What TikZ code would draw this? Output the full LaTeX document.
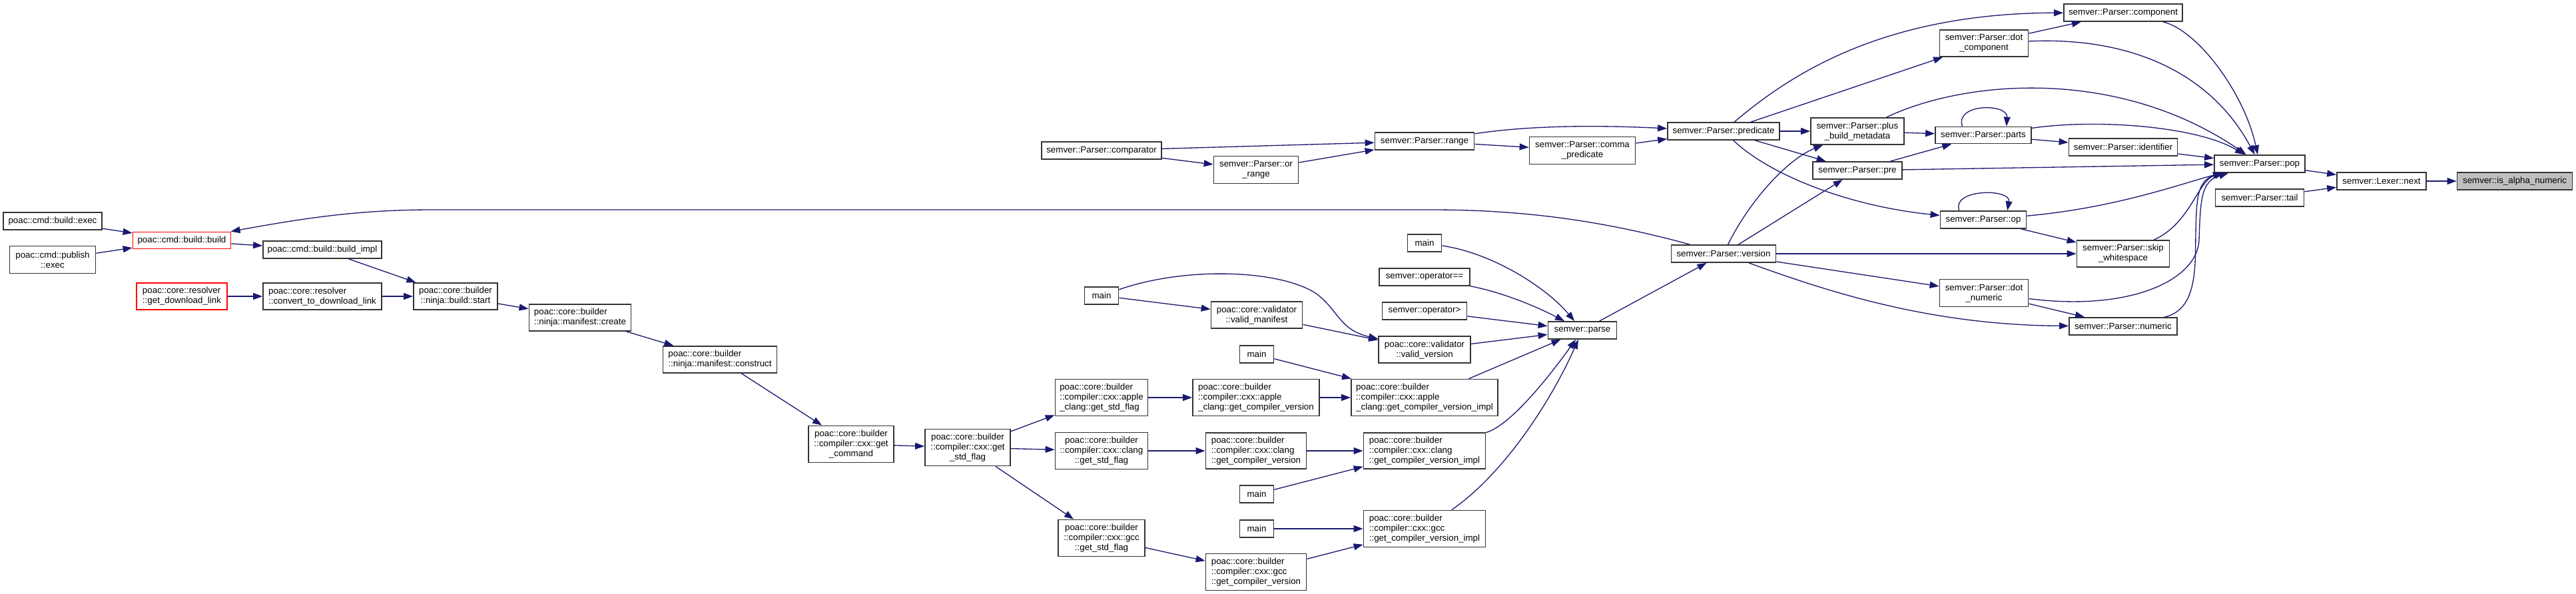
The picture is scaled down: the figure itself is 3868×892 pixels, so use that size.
\documentclass[tikz,border=0pt]{standalone}
\usepackage{fontspec}
\setmainfont{Liberation Sans}
\usetikzlibrary{arrows.meta}
\definecolor{edgeblue}{HTML}{191970}
\definecolor{boxline}{HTML}{333333}
\definecolor{hlgray}{HTML}{BFBFBF}
\newcommand\nodefont{\fontsize{7.6pt}{8.54pt}\selectfont}
\tikzset{
  fn/.style={draw=boxline, line width=1pt, fill=white, inner sep=0pt, font=\nodefont, align=center},
  fnl/.style={fn, align=left},
  redbox/.style={draw=red},
  sz/.style 2 args={minimum width={#1*0.02cm}, minimum height={#2*0.02cm}},
  edge/.style={draw=edgeblue, line width=0.75pt, -{Triangle[length=0.28cm,width=0.2cm]}},
}
\begin{document}
\begin{tikzpicture}[x=0.02cm, y=-0.02cm]
\useasboundingbox (0,0) rectangle (3868,892);
% ---------- left part ----------
\node[fn, sz={148}{26}] (bexec) at (79,332) {poac::cmd::build::exec};
\node[fn, sz={129}{41}] (pexec) at (79,390) {poac::cmd::publish\\::exec};
\node[fn, redbox, sz={147}{25}] (bbuild) at (273,361) {poac::cmd::build::build};
\node[fn, sz={178}{26}] (bimpl) at (484,375) {poac::cmd::build::build\_impl};
\node[fnl, redbox, sz={136}{40}] (gdl) at (273,445) {poac::core::resolver\\::get\_download\_link};
\node[fnl, sz={178}{40}] (conv) at (484,445) {poac::core::resolver\\::convert\_to\_download\_link};
\node[fn, sz={126}{40}] (nstart) at (684,445) {poac::core::builder\\::ninja::build::start};
\node[fnl, sz={153}{40}] (create) at (871,477) {poac::core::builder\\::ninja::manifest::create};
\node[fnl, sz={171}{40}] (construct) at (1081,540) {poac::core::builder\\::ninja::manifest::construct};
\node[fn, sz={128}{55}] (getcmd) at (1278,667) {poac::core::builder\\::compiler::cxx::get\\\_command};
\node[fn, sz={128}{55}] (getstd) at (1453,672) {poac::core::builder\\::compiler::cxx::get\\\_std\_flag};
\node[fnl, sz={139}{55}] (astd) at (1654,597) {poac::core::builder\\::compiler::cxx::apple\\\_clang::get\_std\_flag};
\node[fn, sz={139}{55}] (cstd) at (1654,677) {poac::core::builder\\::compiler::cxx::clang\\::get\_std\_flag};
\node[fn, sz={130}{55}] (gstd) at (1654,808) {poac::core::builder\\::compiler::cxx::gcc\\::get\_std\_flag};
% ---------- middle ----------
\node[fn, sz={180}{26}] (comparator) at (1654,226) {semver::Parser::comparator};
\node[fn, sz={127}{41}] (orrange) at (1886,255) {semver::Parser::or\\\_range};
\node[fn, sz={149}{26}] (range) at (2139,212) {semver::Parser::range};
\node[fn, sz={159}{41}] (comma) at (2376,226) {semver::Parser::comma\\\_predicate};
\node[fn, sz={168}{26}] (predicate) at (2588,197) {semver::Parser::predicate};
\node[fn, sz={51}{26}] (main2) at (1654,444) {main};
\node[fn, sz={137}{40}] (vmanifest) at (1887,473) {poac::core::validator\\::valid\_manifest};
\node[fn, sz={51}{26}] (main3) at (1887,532) {main};
\node[fnl, sz={190}{55}] (agcv) at (1886,597) {poac::core::builder\\::compiler::cxx::apple\\\_clang::get\_compiler\_version};
\node[fnl, sz={220}{55}] (aimpl) at (2139,597) {poac::core::builder\\::compiler::cxx::apple\\\_clang::get\_compiler\_version\_impl};
\node[fnl, sz={151}{54}] (cgcv) at (1886,677) {poac::core::builder\\::compiler::cxx::clang\\::get\_compiler\_version};
\node[fnl, sz={183}{54}] (cimpl) at (2139,677) {poac::core::builder\\::compiler::cxx::clang\\::get\_compiler\_version\_impl};
\node[fn, sz={51}{26}] (main4) at (1887,742) {main};
\node[fn, sz={51}{26}] (main5) at (1887,794) {main};
\node[fnl, sz={183}{55}] (gimpl) at (2139,794) {poac::core::builder\\::compiler::cxx::gcc\\::get\_compiler\_version\_impl};
\node[fnl, sz={151}{55}] (ggcv) at (1886,859) {poac::core::builder\\::compiler::cxx::gcc\\::get\_compiler\_version};
\node[fn, sz={51}{26}] (main1) at (2139,365) {main};
\node[fn, sz={136}{26}] (opeq) at (2139,416) {semver::operator==};
\node[fn, sz={127}{26}] (opgt) at (2139,467) {semver::operator>};
\node[fn, sz={138}{40}] (vversion) at (2139,525) {poac::core::validator\\::valid\_version};
\node[fn, sz={103}{26}] (parse) at (2376,496) {semver::parse};
\node[fn, sz={157}{26}] (version) at (2588,381) {semver::Parser::version};
% ---------- right part ----------
\node[fn, sz={140}{40}] (plus) at (2789,197) {semver::Parser::plus\\\_build\_metadata};
\node[fn, sz={134}{26}] (pre) at (2789,256) {semver::Parser::pre};
\node[fn, sz={133}{40}] (dotcomp) at (2979,65) {semver::Parser::dot\\\_component};
\node[fn, sz={144}{25}] (parts) at (2978,203) {semver::Parser::parts};
\node[fn, sz={129}{26}] (op) at (2978,330) {semver::Parser::op};
\node[fn, sz={133}{41}] (dotnum) at (2979,440) {semver::Parser::dot\\\_numeric};
\node[fn, sz={178}{26}] (component) at (3188,19) {semver::Parser::component};
\node[fn, sz={163}{26}] (identifier) at (3188,221) {semver::Parser::identifier};
\node[fn, sz={139}{40}] (skipws) at (3188,381) {semver::Parser::skip\\\_whitespace};
\node[fn, sz={162}{26}] (numeric) at (3188,490) {semver::Parser::numeric};
\node[fn, sz={136}{26}] (pop) at (3393,246) {semver::Parser::pop};
\node[fn, sz={133}{26}] (tail) at (3393,297) {semver::Parser::tail};
\node[fn, sz={134}{26}] (next) at (3576,272) {semver::Lexer::next};
\node[fn, fill=hlgray, sz={173}{26}] (alpha) at (3776,272) {semver::is\_alpha\_numeric};
% ---------- edges: left ----------
\draw[edge] (bexec) -- (bbuild);
\draw[edge] (pexec) -- (bbuild);
\draw[edge] (bbuild) -- (bimpl);
\draw[edge] (bimpl) -- (nstart);
\draw[edge] (gdl) -- (conv);
\draw[edge] (conv) -- (nstart);
\draw[edge] (nstart) -- (create);
\draw[edge] (create) -- (construct);
\draw[edge] (construct) -- (getcmd);
\draw[edge] (getcmd) -- (getstd);
\draw[edge] (getstd) -- (astd);
\draw[edge] (getstd) -- (cstd);
\draw[edge] (getstd) -- (gstd);
\draw[edge] (astd) -- (agcv);
\draw[edge] (agcv) -- (aimpl);
\draw[edge] (cstd) -- (cgcv);
\draw[edge] (cgcv) -- (cimpl);
\draw[edge] (gstd) -- (ggcv);
\draw[edge] (ggcv) -- (gimpl);
\draw[edge] (main5) -- (gimpl);
\draw[edge] (main4) -- (cimpl);
\draw[edge] (main3) -- (aimpl);
\draw[edge] (main2) -- (vmanifest);
\draw[edge] (vmanifest) -- (vversion);
\draw[edge] (main2) .. controls (1780,400) and (1920,405) .. (1975,440) .. controls (2010,465) and (2010,495) .. (vversion);
% ---------- edges: into parse ----------
\draw[edge] (main1) .. controls (2240,380) and (2320,430) .. (parse);
\draw[edge] (opeq) .. controls (2260,440) and (2310,462) .. (parse);
\draw[edge] (opgt) -- (parse);
\draw[edge] (vversion) -- (parse);
\draw[edge] (aimpl) -- (parse);
\draw[edge] (cimpl) .. controls (2270,638) and (2330,560) .. (parse);
\draw[edge] (gimpl) .. controls (2260,710) and (2330,600) .. (parse);
\draw[edge] (parse) -- (version);
% ---------- edges: range / predicate ----------
\draw[edge] (comparator) -- (range);
\draw[edge] (comparator) -- (orrange);
\draw[edge] (orrange) -- (range);
\draw[edge] (range) -- (comma);
\draw[edge] (comma) -- (predicate);
\draw[edge] (range) .. controls (2300,188) and (2400,188) .. (predicate);
\draw[edge] (predicate) .. controls (2690,110) and (2830,20) .. (component);
\draw[edge] (predicate) -- (dotcomp);
\draw[edge] (predicate) -- (plus);
\draw[edge] (predicate) -- (pre);
\draw[edge] (predicate) .. controls (2660,265) and (2780,310) .. (op);
% ---------- edges: version ----------
\draw[edge] (version) .. controls (2420,335) and (2300,315) .. (2150,315) -- (650,315) .. controls (540,315) and (460,327) .. (bbuild);
\draw[edge] (version) .. controls (2625,305) and (2682,240) .. (plus);
\draw[edge] (version) -- (pre);
\draw[edge] (version) -- (skipws);
\draw[edge] (version) -- (dotnum);
\draw[edge] (version) .. controls (2750,440) and (2900,488) .. (numeric);
% ---------- edges: right ----------
\draw[edge] (plus) -- (parts);
\draw[edge] (pre) -- (parts);
\draw[edge] (parts.157) .. controls (2935,155) and (3015,155) .. (parts.21);
\draw[edge] (op.159) .. controls (2930,283) and (3020,283) .. (op.21);
\draw[edge] (parts) -- (identifier);
\draw[edge] (identifier) -- (pop);
\draw[edge] (pre) -- (pop);
\draw[edge] (dotcomp) -- (component);
\draw[edge] (op) -- (skipws);
\draw[edge] (dotnum) -- (numeric);
\draw[edge] (component) .. controls (3300,45) and (3370,140) .. (pop);
\draw[edge] (dotcomp) .. controls (3200,55) and (3320,110) .. (pop);
\draw[edge] (plus) .. controls (2950,120) and (3180,100) .. (pop);
\draw[edge] (parts) .. controls (3150,178) and (3300,190) .. (pop);
\draw[edge] (op) .. controls (3180,312) and (3280,274) .. (pop);
\draw[edge] (skipws) .. controls (3290,335) and (3300,270) .. (pop);
\draw[edge] (dotnum) .. controls (3200,468) and (3300,420) .. (3302,360) .. controls (3304,300) and (3305,272) .. (pop);
\draw[edge] (numeric) .. controls (3300,465) and (3296,400) .. (3297,350) .. controls (3298,295) and (3300,270) .. (pop);
\draw[edge] (pop) -- (next);
\draw[edge] (tail) -- (next);
\draw[edge] (next) -- (alpha);
\end{tikzpicture}
\end{document}
